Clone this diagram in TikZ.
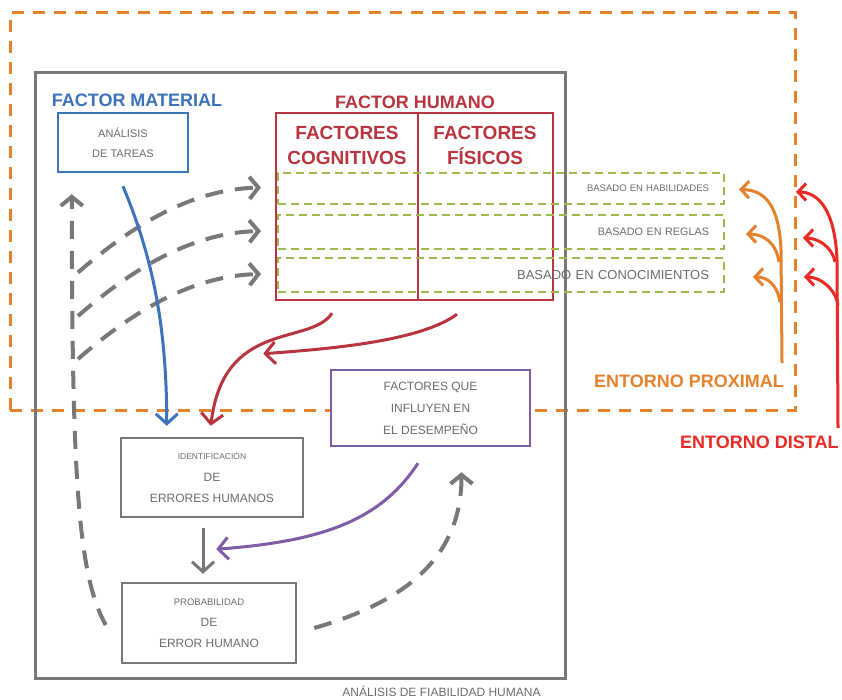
\documentclass[tikz,border=0pt]{standalone}
\usepackage{fontspec}
\setmainfont{Liberation Sans}
\usepackage{xcolor}
\usepackage{tikz}
\usetikzlibrary{arrows.meta,positioning,calc}

\definecolor{proxorange}{RGB}{229,130,46}
\definecolor{distred}{RGB}{234,42,36}
\definecolor{matblue}{RGB}{61,115,186}
\definecolor{humred}{RGB}{184,52,62}
\definecolor{rowgreen}{RGB}{156,186,78}
\definecolor{infpurple}{RGB}{126,92,166}
\definecolor{afhgray}{RGB}{120,120,120}
\definecolor{txtgray}{RGB}{108,108,108}

\newcommand{\fsz}[2]{\fontsize{#1}{#2}\selectfont}

\begin{document}
\begin{tikzpicture}[
  x=1pt, y=-1pt,
  box/.style={draw, line width=2.5pt, align=center, inner sep=0pt, text=txtgray},
  title/.style={font=\bfseries\fsz{18}{20}, inner sep=0pt},
  row/.style={draw=rowgreen, line width=2pt, dash pattern=on 8pt off 5pt, inner xsep=15pt, inner ysep=0pt, text width=416pt, align=right, text=txtgray},
  arr/.style={line width=3pt, -{Straight Barb[length=10pt, width=22pt]}},
  gdash/.style={draw=afhgray, line width=4pt, dash pattern=on 18pt off 12pt, -{Straight Barb[length=9pt, width=22pt]}},
  env/.style={line width=3pt, -{Straight Barb[length=8pt, width=17pt]}}
]
\path[use as bounding box, fill=white] (0,0) rectangle (842,700);

% environment and analysis frames
\node[draw=proxorange, line width=3pt, dash pattern=on 12pt off 9pt, minimum width=785, minimum height=397, inner sep=0pt] (prox) at (402.5,211.5) {};
\node[draw=afhgray, line width=3pt, minimum width=530, minimum height=605, inner sep=0pt] (afh) at (300,375.5) {};
\node[anchor=base, text=txtgray, font=\fsz{12}{14}, inner sep=0pt] (afhlbl) at ($(afh.south east)+(-125,17)$) {ANÁLISIS DE FIABILIDAD HUMANA};

% material factor
\node[title, text=matblue] (fmat) at (137,100) {FACTOR MATERIAL};
\node[box, draw=matblue, minimum width=130, minimum height=59, font=\fsz{11}{20}] (tareas) at (123,142.5) {ANÁLISIS\\DE TAREAS};

% human factor
\node[title, text=humred] (fhum) at (415,102) {FACTOR HUMANO};
\node[draw=humred, line width=2.5pt, minimum width=277, minimum height=187, inner sep=0pt] (humano) at (414.5,206.5) {};
\draw[humred, line width=2.5pt] ([xshift=3.5pt]humano.north) -- ([xshift=3.5pt]humano.south);
\node[font=\bfseries\fsz{19}{25}, text=humred, align=center, inner sep=0pt] (cogn) at (347,145) {FACTORES\\COGNITIVOS};
\node[font=\bfseries\fsz{19}{25}, text=humred, align=center, inner sep=0pt] (fis) at (485,145) {FACTORES\\FÍSICOS};

% performance levels
\node[row, minimum height=31, font=\fsz{9.5}{11}] (habil) at (501,188.5) {BASADO EN HABILIDADES};
\node[row, minimum height=34, font=\fsz{10.8}{12}] (reglas) at (501,232) {BASADO EN REGLAS};
\node[row, minimum height=34, font=\fsz{13}{14}] (conoc) at (501,275) {BASADO EN CONOCIMIENTOS};

% environment labels
\node[font=\bfseries\fsz{18}{20}, text=proxorange, anchor=east, inner sep=0pt] (proxlbl) at (784,381) {ENTORNO PROXIMAL};
\node[font=\bfseries\fsz{18}{20}, text=distred, anchor=west, inner sep=0pt] (distlbl) at (680,442) {ENTORNO DISTAL};

% analysis steps
\node[box, draw=infpurple, fill=white, minimum width=199, minimum height=76, font=\fsz{12}{22}] (desemp) at (430.5,408) {FACTORES QUE\\INFLUYEN EN\\EL DESEMPEÑO};
\node[box, draw=afhgray, minimum width=182, minimum height=79, font=\fsz{12}{21.5}] (ident) at (212,477.5) {{\fsz{8.5}{21.5}IDENTIFICACIÓN}\\DE\\ERRORES HUMANOS};
\node[box, draw=afhgray, minimum width=174, minimum height=80, font=\fsz{12}{21}] (prob) at (209,623) {{\fsz{9.5}{21}PROBABILIDAD}\\DE\\ERROR HUMANO};

% feedback loops
\foreach \r in {habil,reglas,conoc}
  \draw[gdash] ($(\r.west)+(-199,84)$) .. controls +(52,-45) and +(-72,2) .. ($(\r.west)+(-16,-1)$);
\draw[gdash] ($(prob.west)+(-15,2)$) .. controls (78,575) and (72,480) .. ($(tareas.south west)+(15,21)$);
\draw[gdash] ($(prob.east)+(17,5)$) .. controls +(87,-25) and +(0,88) .. ($(desemp.south)+(31,25)$);

% main flow
\draw[arr, matblue] ($(tareas.south)+(0,13)$) .. controls +(27,65) and +(0,-107) .. ($(ident.north west)+(47,-11)$);
\draw[arr, humred] ($(humano.south)+(-82.5,12)$) .. controls +(-22,33) and +(13,-107) .. ($(ident.north west)+(91,-11)$);
\draw[arr, humred] ($(humano.south)+(42.5,13)$) .. controls +(-37,27) and +(68,-5) .. ($(ident.north east)+(-41,-83)$);
\draw[arr, infpurple] ($(desemp.south)+(-12.5,16)$) .. controls +(-38,58) and +(105,-8) .. ($(ident.south east)+(-88,31)$);
\draw[arr, afhgray] ($(ident.south)+(-9,10)$) -- ($(prob.north)+(-6,-8)$);

% proximal environment
\coordinate (proxfoot) at (782,363);
\coordinate (proxmid) at (779,262);
\coordinate (proxlow) at (780,302);
\draw[env, proxorange] (proxfoot) -- (781,250) .. controls (779,205) and (765,190) .. ($(habil.east)+(14,1)$);
\draw[env, proxorange] (proxmid) .. controls +(-3,-20) and +(17,0) .. ($(reglas.east)+(21,2)$);
\draw[env, proxorange] (proxlow) .. controls +(-3,-18) and +(14,0) .. ($(conoc.east)+(28,2)$);

% distal environment
\coordinate (distfoot) at (838,428);
\coordinate (distmid) at (835,262);
\coordinate (distlow) at (838,305);
\draw[env, distred] (distfoot) -- (837,260) .. controls (835,208) and (817,192) .. ($(habil.east)+(71,3.5)$);
\draw[env, distred] (distmid) .. controls +(-3,-16) and +(14,0) .. ($(reglas.east)+(78,6)$);
\draw[env, distred] (distlow) .. controls +(-3,-17) and +(16,0) .. ($(conoc.east)+(79,2)$);
\end{tikzpicture}
\end{document}
